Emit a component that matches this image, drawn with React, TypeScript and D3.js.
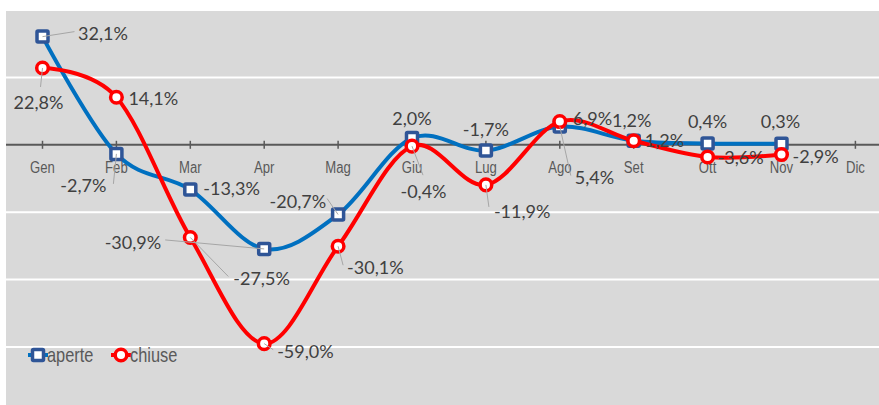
import React from "react";
import * as d3 from "d3";

const months = ["Gen", "Feb", "Mar", "Apr", "Mag", "Giu", "Lug", "Ago", "Set", "Ott", "Nov", "Dic"];
const aperte: (number | null)[] = [32.1, -2.7, -13.3, -30.9, -20.7, 2.0, -1.7, 5.4, 1.2, 0.4, 0.3, null];
const chiuse: (number | null)[] = [22.8, 14.1, -27.5, -59.0, -30.1, -0.4, -11.9, 6.9, 1.2, -3.6, -2.9, null];
const gridTicks = [40, 20, -20, -40, -60];
const legendNames = ["aperte", "chiuse"];

// label placement: [dx, dy, anchor, leaderX, leaderY] relative to the point
type LP = [number, number, string, number | null, number | null];
const aperteLabelPos: LP[] = [
  [35.5, -3, "start", 32, -5],
  [-10, 32, "end", -3, 30],
  [13, -1, "start", null, null],
  [-103, -6, "end", -99, -9],
  [-12, -13, "end", -11, -16],
  [0, -20, "middle", null, null],
  [0, -21, "middle", null, null],
  [15, 51, "start", 11, 49],
  [-2, -20, "middle", null, null],
  [0, -21.5, "middle", null, null],
  [-1, -22, "middle", null, null],
];
const chiuseLabelPos: LP[] = [
  [-4, 35, "middle", -2, 19],
  [12, 1, "start", null, null],
  [43, 41, "start", 38, 39],
  [13, 8, "start", 9, 6],
  [9, 21, "start", 5, 19],
  [11.5, 45, "middle", 11, 29],
  [8, 26.6, "start", 3, 22],
  [13, -3, "start", null, null],
  [11, 0, "start", null, null],
  [10, 1, "start", null, null],
  [11, 2, "start", null, null],
];

const W = 879;
const H = 405;
const plotLeft = 6;
const plotTop = 11;
const NARROW = 0.82;

export default function App() {
  const x = d3.scalePoint<string>().domain(months).range([42.5, 855.4]);
  const y = d3.scaleLinear().domain([40, -60]).range([10, 347]);

  const fmt = (v: number) => v.toFixed(1).replace(".", ",") + "%";

  const line = d3
    .line<[string, number | null]>()
    .defined((d) => d[1] !== null)
    .x((d) => x(d[0])!)
    .y((d) => y(d[1] as number))
    .curve(d3.curveCardinal.tension(0));

  const aPairs = months.map((m, i) => [m, aperte[i]] as [string, number | null]);
  const cPairs = months.map((m, i) => [m, chiuse[i]] as [string, number | null]);

  const labelFont = "Lato, 'Open Sans', sans-serif";
  const axisFont = "'Liberation Sans', Arial, sans-serif";

  const renderLabels = (vals: (number | null)[], pos: LP[]) =>
    vals.map((v, i) => {
      if (v === null) return null;
      const px = x(months[i])!;
      const py = y(v);
      const p = pos[i];
      return (
        <g key={i}>
          {p[3] !== null && (
            <line x1={px} y1={py} x2={px + (p[3] as number)} y2={py + (p[4] as number)} stroke="#A6A6A6" strokeWidth={1} />
          )}
          <text
            x={px + p[0]}
            y={py + p[1]}
            dy="0.36em"
            textAnchor={p[2] as any}
            fontFamily={labelFont}
            fontSize={18}
            fill="#404040"
          >
            {fmt(v)}
          </text>
        </g>
      );
    });

  return (
    <svg width={W} height={H} style={{ position: "absolute", left: 0, top: 0 }}>
      <rect x={0} y={0} width={W} height={H} fill="#ffffff" />
      <rect x={plotLeft} y={plotTop} width={W - plotLeft} height={H - plotTop} fill="#D9D9D9" />
      {gridTicks.map((t) => (
        <line key={t} x1={plotLeft} x2={W} y1={y(t)} y2={y(t)} stroke="#ffffff" strokeWidth={2} />
      ))}
      {/* axis */}
      <line x1={plotLeft} x2={W} y1={y(0)} y2={y(0)} stroke="#595959" strokeWidth={2} />
      {months.map((m) => (
        <g key={m}>
          <line x1={x(m)!} x2={x(m)!} y1={y(0) - 4} y2={y(0) + 4} stroke="#595959" strokeWidth={1.5} />
          <text
            transform={`translate(${x(m)!},${y(0) + 28}) scale(${NARROW},1)`}
            textAnchor="middle"
            fontFamily={axisFont}
            fontSize={16}
            fill="#595959"
          >
            {m}
          </text>
        </g>
      ))}
      {/* aperte */}
      <path d={line(aPairs)!} fill="none" stroke="#0070C0" strokeWidth={4} />
      {aperte.map((v, i) =>
        v === null ? null : (
          <rect
            key={i}
            x={x(months[i])! - 5.5}
            y={y(v) - 5.5}
            width={11}
            height={11}
            fill="#ffffff"
            stroke="#2F5597"
            strokeWidth={3.5}
            rx={1}
          />
        )
      )}
      {/* chiuse */}
      <path d={line(cPairs)!} fill="none" stroke="#FF0000" strokeWidth={4} />
      {chiuse.map((v, i) =>
        v === null ? null : (
          <circle key={i} cx={x(months[i])!} cy={y(v)} r={5.8} fill="#ffffff" stroke="#FF0000" strokeWidth={3.5} />
        )
      )}
      {renderLabels(aperte, aperteLabelPos)}
      {renderLabels(chiuse, chiuseLabelPos)}
      {/* legend */}
      <g>
        <line x1={28} x2={48} y1={355} y2={355} stroke="#0070C0" strokeWidth={4} />
        <rect x={32.5} y={349.5} width={11} height={11} fill="#ffffff" stroke="#2F5597" strokeWidth={3.5} rx={1} />
        <text transform={`translate(47,362) scale(${NARROW},1)`} fontFamily={axisFont} fontSize={20} fill="#595959">
          {legendNames[0]}
        </text>
        <line x1={111} x2={131} y1={355} y2={355} stroke="#FF0000" strokeWidth={4} />
        <circle cx={121} cy={355} r={5.8} fill="#ffffff" stroke="#FF0000" strokeWidth={3.5} />
        <text transform={`translate(130,362) scale(${NARROW},1)`} fontFamily={axisFont} fontSize={20} fill="#595959">
          {legendNames[1]}
        </text>
      </g>
    </svg>
  );
}
